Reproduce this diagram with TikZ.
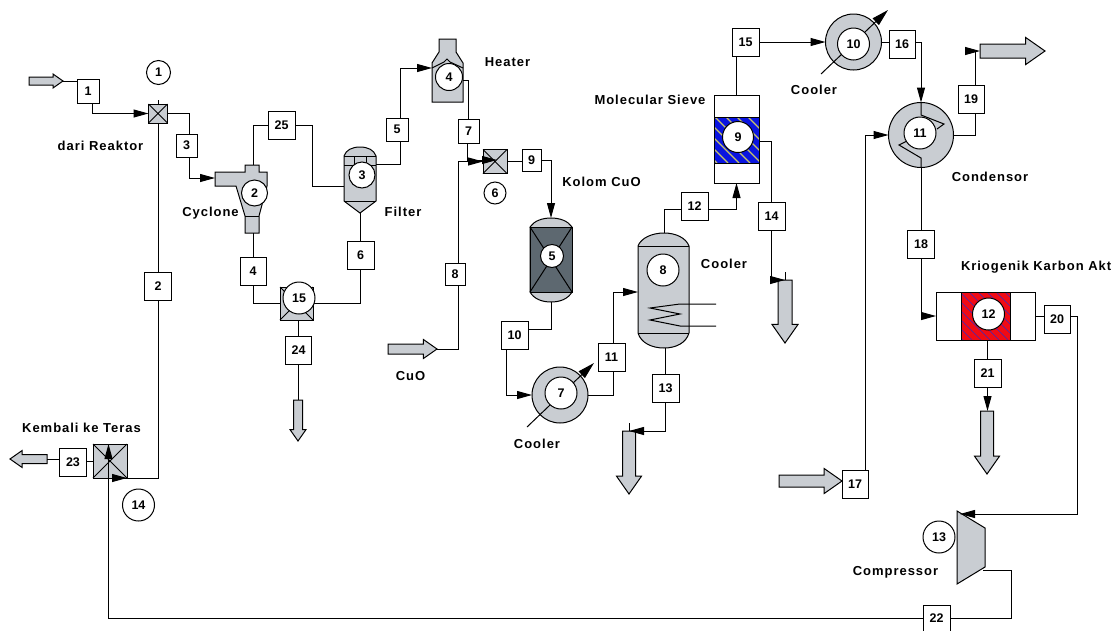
\documentclass[tikz,border=0pt]{standalone}
\usepackage{fontspec}
\setmainfont{Liberation Sans}
\newfontfamily\labelfont{Liberation Sans}[LetterSpace=7.5]
\usetikzlibrary{arrows.meta,positioning,shapes.arrows}
\definecolor{eqgray}{HTML}{C9CDD2}
\definecolor{coldark}{HTML}{5D6870}
\definecolor{sieveblue}{HTML}{0A14E0}
\definecolor{sieveline}{HTML}{C8C46A}
\definecolor{krired}{HTML}{F00A14}
\definecolor{kriline}{HTML}{3A2AC0}

\begin{document}
\begin{tikzpicture}[
    x=1pt, y=-1pt,
    line width=1pt,
    every node/.style={outer sep=0pt, inner sep=0pt},
    stream/.style={draw, fill=white, font=\bfseries\fontsize{12.5}{13}\selectfont, minimum width=27pt, minimum height=28pt},
    tag/.style={circle, draw, fill=white, font=\bfseries\fontsize{12.5}{13}\selectfont, minimum size=32pt},
    lab/.style={font=\labelfont\bfseries\fontsize{13}{14}\selectfont},
    mixer/.style={draw, fill=eqgray},
    cooler/.style={circle, draw, fill=eqgray, minimum size=56pt},
    plain/.style={draw, fill=white},
    unitline/.style={draw, fill=eqgray},
    flow/.style={-{Triangle[length=15pt, width=8pt]}},
    dial/.style={-{Triangle[length=17pt, width=9pt]}},
    blockarrow/.style n args={3}{single arrow, draw, fill=eqgray, single arrow tip angle=70, anchor=tail, minimum height=#1, inner ysep=#2, single arrow head extend=#3}
]
\useasboundingbox (0,0) rectangle (1114,630);

% block arrows
\node[blockarrow={34pt}{3.5pt}{3pt}] (inA) at (29,81) {};
\node[blockarrow={49pt}{4.5pt}{4.5pt}] (inB) at (388,349) {};
\node[blockarrow={63pt}{5.5pt}{6.5pt}] (inC) at (779,481) {};
\node[blockarrow={65pt}{6.5pt}{6.5pt}] (outD) at (980,51) {};
\node[blockarrow={37pt}{4pt}{4pt}, rotate=180] (outE) at (47,459) {};
\node[blockarrow={41pt}{4pt}{3.5pt}, rotate=-90] (outF) at (298,400) {};
\node[blockarrow={63pt}{6pt}{6pt}, rotate=-90] (outG) at (629,431) {};
\node[blockarrow={63pt}{6.5pt}{6pt}, rotate=-90] (outH) at (785,280) {};
\node[blockarrow={63pt}{6pt}{6pt}, rotate=-90] (outI) at (987,411) {};

% equipment
\node[mixer, minimum size=19pt] (mix1) at (158,113.5) {};
\node[mixer, minimum size=24pt] (mix6) at (495,161.5) {};
\node[mixer, minimum size=34pt] (mix14) at (110,461) {};
\node[mixer, minimum size=33pt] (dust) at (296.5,303.5) {};
\foreach \m in {mix1,mix6,mix14,dust}
    \draw (\m.north west) -- (\m.south east) (\m.north east) -- (\m.south west);

% cyclone
\draw[unitline] (215,172) -- (245,172) -- (245,165) -- (259,165) -- (259,172) -- (267,172) -- (267,186) -- (259,216) -- (259,233) -- (245,233) -- (245,216) -- (236,186) -- (215,186) -- cycle;
\draw (245,216) -- (259,216);
\coordinate (cycin) at (215,178);
\coordinate (cyctop) at (253,165);
\coordinate (cycbot) at (253,233);

% filter
\draw[unitline] (344,156) .. controls (346,150) and (352,147) .. (360,147) .. controls (368,147) and (374,150) .. (376,156) -- (376,201) -- (360,213) -- (344,201) -- cycle;
\draw (344,156) -- (376,156) (344,201) -- (376,201) (344,165) -- (376,165) (354,156) -- (354,165) (366,156) -- (366,165);
\coordinate (filtin) at (344,186);
\coordinate (filtout) at (376,164);
\coordinate (filttip) at (360,213);

% heater
\draw[unitline] (439,39) -- (456,39) -- (456,52) -- (463,63) -- (463,102) -- (432,102) -- (432,63) -- (439,52) -- cycle;
\draw (432,68) -- (444,62) -- (447,59) -- (450,62) -- (463,68);
\coordinate (heatin) at (432,68);
\coordinate (heatout) at (463,80);

% CuO column
\draw[unitline] (530,227) .. controls (534,221) and (542,218) .. (551,218) .. controls (560,218) and (568,221) .. (572,227) -- (572,292) .. controls (568,299) and (560,302) .. (551,302) .. controls (542,302) and (534,299) .. (530,292) -- cycle;
\node[draw, fill=coldark, minimum width=42pt, minimum height=65pt] (colkuo) at (551,259.5) {};
\draw (colkuo.north west) -- (colkuo.south east) (colkuo.north east) -- (colkuo.south west);
\coordinate (coltop) at (551,218);
\coordinate (colbot) at (551,302);

% coolers
\node[cooler] (cool7) at (560,395) {};
\node[cooler] (cool10) at (853.5,42) {};
\draw[dial] ([shift={(-33,32)}]cool7.center) -- ([shift={(34,-32)}]cool7.center);
\draw[dial] ([shift={(-32.5,32)}]cool10.center) -- ([shift={(34.5,-32)}]cool10.center);

% vessel
\draw[unitline] (638,246) .. controls (641,238) and (652,233) .. (664,233) .. controls (676,233) and (686,238) .. (689,246) -- (689,333) .. controls (686,343) and (676,348) .. (664,348) .. controls (652,348) and (641,343) .. (638,333) -- cycle;
\draw (638,246) -- (689,246) (638,333) -- (689,333);
\draw (716,304) -- (680,304) -- (650,308) -- (680,314) -- (650,320) -- (680,326) -- (716,326);
\coordinate (vesin) at (638,292);
\coordinate (vestop) at (664,233);
\coordinate (vesbot) at (664,348);

% molecular sieve
\node[plain, minimum width=45pt, minimum height=88pt] (sieve) at (736.5,139) {};
\node[fill=sieveblue, minimum width=45pt, minimum height=46pt] (sievebed) at (736.5,140) {};
\begin{scope}
    \clip (sievebed.north west) rectangle (sievebed.south east);
    \foreach \s in {660,671,...,760}
        \draw[sieveline, line width=1.2pt] (\s,117) -- ++(46,46);
\end{scope}
\draw (sievebed.north west) rectangle (sievebed.south east);

% condensor
\node[cooler, minimum size=65pt] (cond) at (921,135) {};
\draw (cond.north) -- (921,115) -- (944,124) -- (937,129);
\draw (cond.south) -- (921,158) -- (899,145) -- (907,141);

% kriogenik bed
\node[plain, minimum width=99pt, minimum height=48pt] (krio) at (985.5,316) {};
\node[fill=krired, minimum width=49pt, minimum height=48pt] (kriobed) at (985.5,316) {};
\begin{scope}
    \clip (kriobed.north west) rectangle (kriobed.south east);
    \foreach \s in {915,924,...,1010}
        \draw[kriline, line width=0.6pt] (\s,292) -- ++(48,48);
\end{scope}
\draw (kriobed.north west) rectangle (kriobed.south east);

% compressor
\draw[unitline] (957,511) -- (985,528) -- (985,567) -- (957,584) -- cycle;
\coordinate (compin) at (960,514);
\coordinate (compout) at (983,570);

% stream boxes
\node[stream, minimum width=22pt, minimum height=24pt] (s1) at (88,91) {1};
\node[stream] (s2) at (158,286) {2};
\node[stream, minimum width=21pt, minimum height=23pt] (s3) at (186.5,145.5) {3};
\node[stream, minimum width=26pt] (s4) at (253,271) {4};
\node[stream, minimum width=22pt, minimum height=23pt] (s5) at (397,129.5) {5};
\node[stream] (s6) at (360.5,255) {6};
\node[stream, minimum width=21pt, minimum height=24pt] (s7) at (468.5,131) {7};
\node[stream, minimum width=20pt, minimum height=22pt] (s8) at (455,274) {8};
\node[stream, minimum width=19pt, minimum height=22pt] (s9) at (531.5,160) {9};
\node[stream] (s10) at (514.5,335) {10};
\node[stream] (s11) at (611.5,357) {11};
\node[stream] (s12) at (694.5,206) {12};
\node[stream] (s13) at (665.5,388) {13};
\node[stream] (s14) at (771.5,216) {14};
\node[stream] (s15) at (745.5,42) {15};
\node[stream, minimum width=26pt] (s16) at (902,44.5) {16};
\node[stream, minimum width=26pt] (s17) at (855,484) {17};
\node[stream] (s18) at (921,244) {18};
\node[stream, minimum width=26pt] (s19) at (971,99) {19};
\node[stream, minimum width=26pt] (s20) at (1057,319) {20};
\node[stream] (s21) at (987.5,373) {21};
\node[stream, minimum height=26pt] (s22) at (936.5,618) {22};
\node[stream] (s23) at (73,462.5) {23};
\node[stream, minimum width=26pt] (s24) at (298.5,350) {24};
\node[stream] (s25) at (281.5,125.5) {25};

% connectors
\draw (inA.tip) -- (inA.tip -| s1.west);
\draw[flow] ([xshift=4.5pt]s1.south) |- (mix1.west);
\draw (mix1.east) -| ([xshift=3pt]s3.north);
\draw[flow] ([xshift=3pt]s3.south) |- (cycin);
\draw (mix1.north) -- ++(0,-4);
\draw (s2.north) -- (mix1.south);
\draw (s2.south) |- (mix14.south east);
\draw[flow] ([xshift=-17pt]mix14.south east) -- (mix14.south east);
\draw (cyctop) |- (s25.west);
\draw (s25.east) -- ++(17,0) |- (filtin);
\draw (cycbot) -- (s4.north);
\draw (s4.south) |- (dust.west);
\draw (filttip) -- (filttip |- s6.north);
\draw (s6.south) |- (dust.east);
\draw (s24.north |- dust.south) -- (s24.north);
\draw (s24.south) -- (s24.south |- outF.tail);
\draw (filtout) -| ([xshift=3pt]s5.south);
\draw[flow] ([xshift=3pt]s5.north) |- (heatin);
\draw (heatout) -| (s7.north);
\draw[flow] ([xshift=-1.5pt]s7.south) |- ++(30,17);
\draw (inB.tip) -| ([xshift=3.5pt]s8.south);
\draw[flow] ([xshift=3.5pt]s8.north) |- (mix6.west);
\draw (mix6.east) -- (mix6.east -| s9.west);
\draw[flow] (s9.east) -| (coltop);
\draw (colbot) |- ([yshift=6pt]s10.east);
\draw[flow] ([xshift=-8.5pt]s10.south) |- (cool7.west);
\draw (cool7.east) -| ([xshift=1.5pt]s11.south);
\draw[flow] ([xshift=1.5pt]s11.north) |- (vesin);
\draw (vestop) |- ([yshift=-3pt]s12.west);
\draw[flow] ([yshift=-3pt]s12.east) -| (sieve.south);
\draw (s13.north |- vesbot) -- (s13.north);
\draw[flow] (s13.south) |- (outG.tail);
\draw (outG.tail) -- ++(0,-8);
\draw ([yshift=-2pt]sieve.east) -| (s14.north);
\draw[flow] (s14.south) |- (outH.tail);
\draw (outH.tail) -- ++(0,-8);
\draw (sieve.north) -- (sieve.north |- s15.south);
\draw[flow] (s15.east) -- (cool10.west);
\draw (cool10.east) -- (cool10.east -| s16.west);
\draw[flow] ([yshift=2pt]s16.east) -| (cond.north);
\draw (cond.south) -- (s18.north);
\draw[flow] (s18.south) |- (krio.west);
\draw[flow] ([xshift=10.5pt]s17.north) |- (cond.west);
\draw (cond.east) -| ([xshift=4.5pt]s19.south);
\draw[flow] ([xshift=4.5pt]s19.north) |- (outD.tail);
\draw (krio.east) -- (krio.east -| s20.west);
\draw[flow] ([yshift=3pt]s20.east) -- ++(7,0) |- (compin);
\draw (s21.north |- krio.south) -- (s21.north);
\draw[flow] (s21.south) -- (s21.south |- outI.tail);
\draw (compout) -- ++(28,0) |- (s22.east);
\draw[flow] (s22.west) -| ([xshift=-1.5pt]mix14.north);
\draw (mix14.west) -- (mix14.west -| s23.east);
\draw (outE.tail) -- (outE.tail -| s23.west);

% unit numbers
\node[tag, minimum size=24pt] (t1) at (158.5,72.5) {1};
\node[tag, minimum size=26pt] (t2) at (254.5,193) {2};
\node[tag, minimum size=26pt] (t3) at (362,175) {3};
\node[tag, minimum size=27pt] (t4) at (449,77) {4};
\node[tag, minimum size=23pt] (t5) at (552,256) {5};
\node[tag, minimum size=22pt] (t6) at (495,193) {6};
\node[tag] (t7) at (561,393) {7};
\node[tag] (t8) at (663,270) {8};
\node[tag, minimum size=31pt] (t9) at (738,137) {9};
\node[tag] (t10) at (853.5,44) {10};
\node[tag] (t11) at (920,133) {11};
\node[tag] (t12) at (988.5,314) {12};
\node[tag] (t13) at (939,537) {13};
\node[tag] (t14) at (138.5,505) {14};
\node[tag] (t15) at (299,298) {15};

% labels
\node[lab] (ldari) at (100.5,146) {dari Reaktor};
\node[lab] (lcyclone) at (210.5,213) {Cyclone};
\node[lab] (lfilter) at (403,212) {Filter};
\node[lab] (lheater) at (507.5,62) {Heater};
\node[lab] (lkolom) at (601.5,182) {Kolom CuO};
\node[lab] (lsieve) at (650,100) {Molecular Sieve};
\node[lab] (lcool8) at (724,264) {Cooler};
\node[lab] (lcool10) at (814,90) {Cooler};
\node[lab] (lcool7) at (537,444) {Cooler};
\node[lab] (lcond) at (990,177) {Condensor};
\node[lab, anchor=west] (lkrio) at (961,267) {Kriogenik Karbon Akt};
\node[lab] (lcuo) at (410.5,376) {CuO};
\node[lab] (lkembali) at (81.5,428) {Kembali ke Teras};
\node[lab] (lcomp) at (895.5,572) {Compressor};
\end{tikzpicture}
\end{document}
